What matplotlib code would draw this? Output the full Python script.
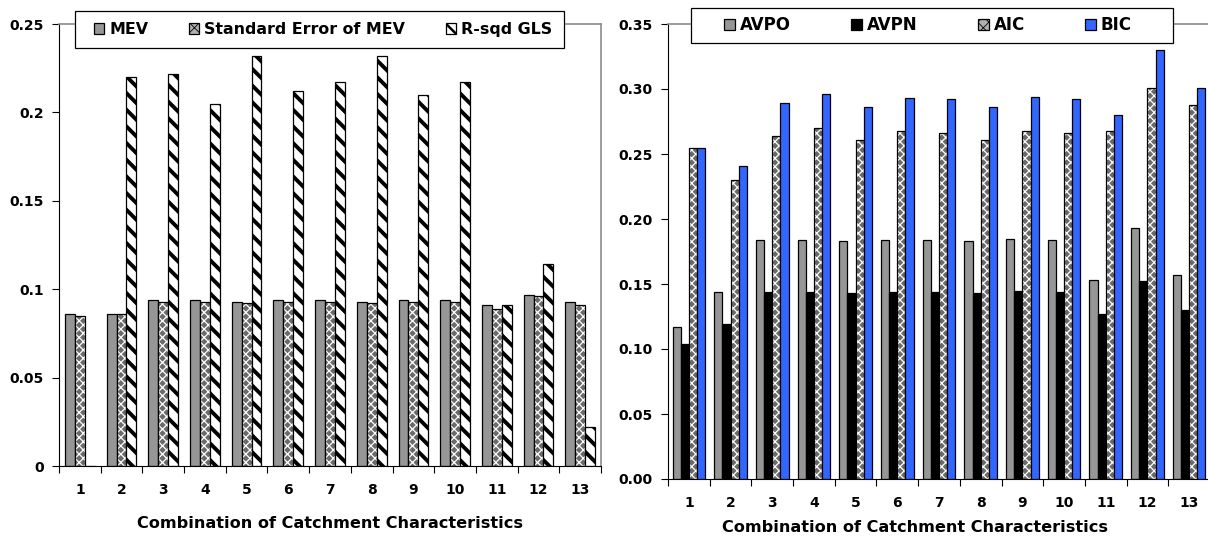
import numpy as np
import matplotlib
matplotlib.use("Agg")
import matplotlib.pyplot as plt

plt.rcParams['font.family'] = ['DejaVu Sans']
plt.rcParams['font.weight'] = 'bold'

# combinations of catchment characteristics
combos = [str(i) for i in range(1, 14)]

# left panel
mev = [0.086, 0.086, 0.094, 0.094, 0.093, 0.094, 0.094, 0.093, 0.094, 0.094, 0.091, 0.097, 0.093]
se_mev = [0.085, 0.086, 0.093, 0.093, 0.092, 0.093, 0.093, 0.092, 0.093, 0.093, 0.089, 0.096, 0.091]
rsqd_gls = [0.0, 0.220, 0.222, 0.205, 0.232, 0.212, 0.217, 0.232, 0.210, 0.217, 0.091, 0.114, 0.022]

# right panel
avpo = [0.117, 0.144, 0.184, 0.184, 0.183, 0.184, 0.184, 0.183, 0.185, 0.184, 0.153, 0.193, 0.157]
avpn = [0.104, 0.119, 0.144, 0.144, 0.143, 0.144, 0.144, 0.143, 0.145, 0.144, 0.127, 0.152, 0.130]
aic = [0.255, 0.230, 0.264, 0.270, 0.261, 0.268, 0.266, 0.261, 0.268, 0.266, 0.268, 0.301, 0.288]
bic = [0.255, 0.241, 0.289, 0.296, 0.286, 0.293, 0.292, 0.286, 0.294, 0.292, 0.280, 0.330, 0.301]

W, H = 1208, 537
fig = plt.figure(figsize=(W / 100, H / 100), dpi=100)

DOT_LW = 0.9
STRIPE_LW = 2.8
DOT_FACE = '#6a6a6a'


def px_axes(x0, y0, x1, y1):
    return fig.add_axes([x0 / W, 1 - y1 / H, (x1 - x0) / W, (y1 - y0) / H])


def set_hlw(patches, lw):
    for p in patches:
        if hasattr(p, 'set_hatch_linewidth'):
            p.set_hatch_linewidth(lw)
        p._hatch_linewidth = lw


def draw_bars(ax, x, vals, width, style):
    if style == 'gray':
        ax.bar(x, vals, width, color='#969696', edgecolor='black', linewidth=0.9)
    elif style == 'black':
        ax.bar(x, vals, width, color='black', edgecolor='black', linewidth=0.9)
    elif style == 'blue':
        ax.bar(x, vals, width, color='#3366ff', edgecolor='black', linewidth=0.9)
    elif style == 'dots':
        plt.rcParams['hatch.linewidth'] = DOT_LW
        bars = ax.bar(x, vals, width, color=DOT_FACE, edgecolor='white', linewidth=0, hatch='xxxx')
        set_hlw(bars, DOT_LW)
        ax.bar(x, vals, width, fill=False, edgecolor='black', linewidth=0.9)
    elif style == 'stripes':
        plt.rcParams['hatch.linewidth'] = STRIPE_LW
        bars = ax.bar(x, vals, width, color='white', edgecolor='black', linewidth=0, hatch='\\\\')
        set_hlw(bars, STRIPE_LW)
        ax.bar(x, vals, width, fill=False, edgecolor='black', linewidth=0.9)


def style_axes(ax, ymax, step, ylabels):
    n = len(combos)
    ax.set_xlim(0, n)
    ax.set_ylim(0, ymax)
    ax.set_xticks(np.arange(n + 1))
    ax.set_xticklabels([])
    ax.set_xticks(np.arange(n) + 0.5, minor=True)
    ax.set_xticklabels(combos, minor=True)
    ax.tick_params(axis='x', which='major', direction='out', length=5, width=0.8)
    ax.tick_params(axis='x', which='minor', length=0, pad=12, labelsize=10)
    ax.set_yticks(np.arange(0, ymax + step / 2, step))
    ax.set_yticklabels(ylabels)
    ax.tick_params(axis='y', direction='out', length=5, width=0.8, pad=6, labelsize=10)
    for s in ['top', 'right']:
        ax.spines[s].set_color('#8c8c8c')
        ax.spines[s].set_linewidth(1.2)
    for s in ['left', 'bottom']:
        ax.spines[s].set_color('black')
        ax.spines[s].set_linewidth(0.8)


def legend_box(handles, labels, frame, inner, size, hatch_lw):
    # frame and inner given in pixels: (x0, y0, x1, y1) from top-left
    fx0, fy0, fx1, fy1 = frame
    fig.patches.append(plt.Rectangle((fx0 / W, 1 - fy1 / H), (fx1 - fx0) / W, (fy1 - fy0) / H,
                                     transform=fig.transFigure, fc='white', ec='black', lw=0.9,
                                     zorder=5))
    ix0, ix1 = inner
    yc = (fy0 + fy1) / 2
    leg = fig.legend(handles, labels, ncol=len(labels), mode='expand',
                     bbox_to_anchor=(ix0 / W, 1 - (yc + 8) / H, (ix1 - ix0) / W, 16 / H),
                     loc='center left', frameon=False, borderaxespad=0, borderpad=0,
                     handlelength=0.65, handleheight=0.65, handletextpad=0.3,
                     prop={'size': size, 'weight': 'bold'})
    for p, lw in zip(leg.legend_handles, hatch_lw):
        if lw:
            set_hlw([p], lw)
    leg.set_zorder(6)
    return leg


x = np.arange(len(combos)) + 0.5

# ---- left chart
ax1 = px_axes(59, 24, 601, 466)
bw = 0.238
draw_bars(ax1, x - bw, mev, bw, 'gray')
draw_bars(ax1, x, se_mev, bw, 'dots')
draw_bars(ax1, x + bw, rsqd_gls, bw, 'stripes')
style_axes(ax1, 0.25, 0.05, ['0', '0.05', '0.1', '0.15', '0.2', '0.25'])
ax1.set_xlabel('Combination of Catchment Characteristics', fontsize=11.6, fontweight='bold')
ax1.xaxis.set_label_coords(0.5, -0.112)

h1 = [plt.Rectangle((0, 0), 1, 1, fc='#969696', ec='black', lw=0.9),
      plt.Rectangle((0, 0), 1, 1, fc='#b0b0b0', ec='black', hatch='xxx', lw=0.9),
      plt.Rectangle((0, 0), 1, 1, fc='white', ec='black', hatch='\\\\\\', lw=0.9)]
legend_box(h1, ['MEV', 'Standard Error of MEV', 'R-sqd GLS'], (75, 11, 564, 48), (94, 552),
           11.4, [None, 0.6, 1.8])

# ---- right chart
ax2 = px_axes(668, 24, 1210, 479)
bw2 = 0.196
draw_bars(ax2, x - 1.5 * bw2, avpo, bw2, 'gray')
draw_bars(ax2, x - 0.5 * bw2, avpn, bw2, 'black')
draw_bars(ax2, x + 0.5 * bw2, aic, bw2, 'dots')
draw_bars(ax2, x + 1.5 * bw2, bic, bw2, 'blue')
style_axes(ax2, 0.35, 0.05, ['0.00', '0.05', '0.10', '0.15', '0.20', '0.25', '0.30', '0.35'])
ax2.set_xlabel('Combination of Catchment Characteristics', fontsize=11.6, fontweight='bold')
ax2.xaxis.set_label_coords(0.455, -0.09)

h2 = [plt.Rectangle((0, 0), 1, 1, fc='#969696', ec='black', lw=0.9),
      plt.Rectangle((0, 0), 1, 1, fc='black', ec='black', lw=0.9),
      plt.Rectangle((0, 0), 1, 1, fc='#b0b0b0', ec='black', hatch='xxx', lw=0.9),
      plt.Rectangle((0, 0), 1, 1, fc='#3366ff', ec='black', lw=0.9)]
legend_box(h2, ['AVPO', 'AVPN', 'AIC', 'BIC'], (691, 8, 1173, 43), (724, 1132),
           12, [None, None, 0.6, None])

fig.savefig('out.png', dpi=100)
